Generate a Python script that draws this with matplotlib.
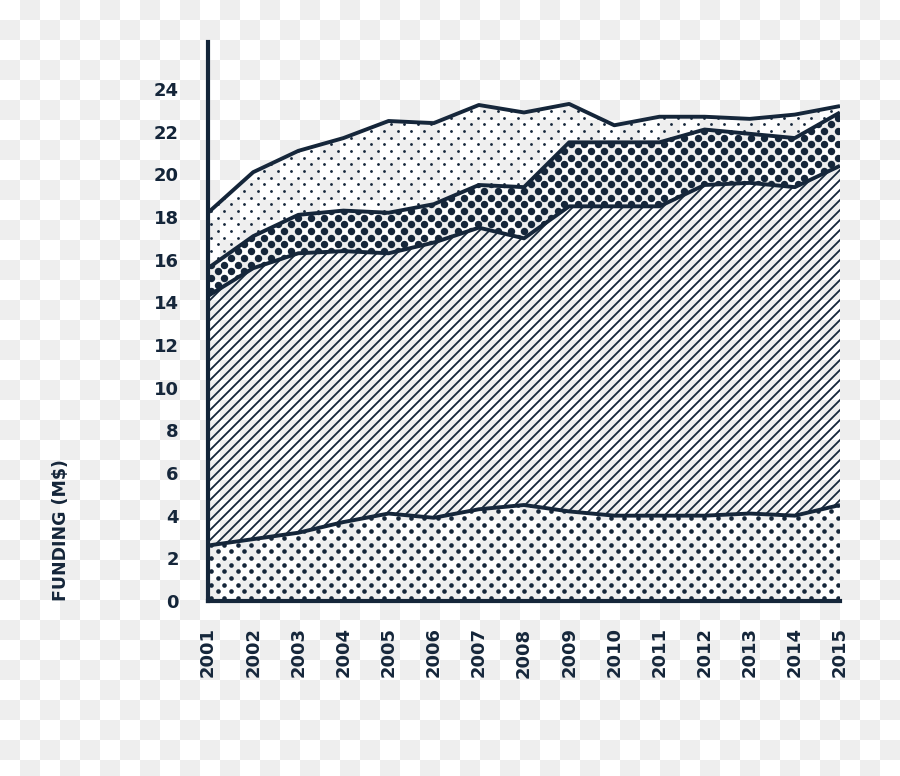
import numpy as np
import matplotlib
matplotlib.use("Agg")
import matplotlib.pyplot as plt
from matplotlib.collections import LineCollection

years = list(range(2001, 2016))
base_dots = [2.6, 2.9, 3.2, 3.7, 4.1, 3.9, 4.3, 4.5, 4.2, 4.0, 4.0, 4.0, 4.1, 4.0, 4.5]
hatched = [11.7, 12.7, 13.1, 12.7, 12.2, 12.9, 13.2, 12.5, 14.3, 14.5, 14.5, 15.5, 15.5, 15.4, 15.9]
big_dots = [1.3, 1.5, 1.8, 1.9, 1.9, 1.8, 2.0, 2.4, 3.0, 3.0, 3.0, 2.6, 2.3, 2.3, 2.5]
light_dots = [2.6, 3.0, 3.0, 3.4, 4.3, 3.8, 3.75, 3.5, 1.8, 0.8, 1.2, 0.6, 0.7, 1.1, 0.3]
yticks = [0, 2, 4, 6, 8, 10, 12, 14, 16, 18, 20, 22, 24]
ylabel = "FUNDING (M$)"

NAVY = "#15263a"
W_PX, H_PX = 900, 776
DPI = 100

fig = plt.figure(figsize=(W_PX / DPI, H_PX / DPI), dpi=DPI, facecolor="white")

# transparency checkerboard background
yy, xx = np.mgrid[0:H_PX, 0:W_PX]
checker = ((xx // 20 + yy // 20) % 2 == 1)
bg = np.ones((H_PX, W_PX, 3))
bg[checker] = 238 / 255
fig.figimage(bg, xo=0, yo=0, origin="upper", zorder=-10)

ax_l, ax_r, ax_t, ax_b = 208, 840, 42, 601
ax = fig.add_axes([ax_l / W_PX, (H_PX - ax_b) / H_PX,
                   (ax_r - ax_l) / W_PX, (ax_b - ax_t) / H_PX])
ax.set_facecolor("none")
AW, AH = ax_r - ax_l, ax_b - ax_t

x = np.array(years, dtype=float)
layers = [np.array(base_dots), np.array(hatched), np.array(big_dots), np.array(light_dots)]
cum = np.cumsum(layers, axis=0)
lower = [np.zeros_like(x)] + [cum[i] for i in range(3)]


def grid_points(dx, dy):
    pts = []
    rows = int(AH / dy) + 2
    for r in range(rows):
        off = (dx / 2) if r % 2 else 0.0
        xs = np.arange(off + 3, AW + dx, dx)
        ys = np.full_like(xs, 3 + r * dy)
        pts.append(np.column_stack([xs, ys]))
    p = np.vstack(pts)
    return p[:, 0] / AW, p[:, 1] / AH


def dot_fill(i, diam_px, dx=13.33, dy=6.67):
    poly = ax.fill_between(x, lower[i], cum[i], facecolor="none", edgecolor="none", lw=0)
    path = poly.get_paths()[0]
    gx, gy = grid_points(dx, dy)
    s = (diam_px * 72 / DPI) ** 2
    sc = ax.scatter(gx, gy, s=s, c=NAVY, linewidths=0, transform=ax.transAxes, zorder=2)
    sc.set_clip_path(path, ax.transData)


def hatch_fill(i, spacing_px=10, lw=1.3):
    poly = ax.fill_between(x, lower[i], cum[i], facecolor="none", edgecolor="none", lw=0)
    path = poly.get_paths()[0]
    segs = []
    for c in np.arange(-AH, AW + spacing_px, spacing_px):
        segs.append([(c / AW, 0), ((c + AH) / AW, 1)])
    lc = LineCollection(segs, colors=NAVY, linewidths=lw, transform=ax.transAxes, zorder=2)
    ax.add_collection(lc)
    lc.set_clip_path(path, ax.transData)


dot_fill(0, 4.6)
hatch_fill(1)
dot_fill(2, 7.4)
dot_fill(3, 2.8)

for i in range(4):
    ax.plot(x, cum[i], color=NAVY, lw=2.8, solid_joinstyle="round", solid_capstyle="butt", zorder=4)

ax.set_xlim(2001, 2015)
ax.set_ylim(0, (ax_b - ax_t) / ((601 - 89) / 24))

for side in ["top", "right"]:
    ax.spines[side].set_visible(False)
for side in ["left", "bottom"]:
    ax.spines[side].set_linewidth(3)
    ax.spines[side].set_color(NAVY)
    ax.spines[side].set_zorder(5)

ax.set_xticks(years)
ax.set_xticklabels([str(y) for y in years], rotation=90, fontsize=13,
                   fontweight="bold", color=NAVY, fontfamily="DejaVu Sans")
ax.set_yticks(yticks)
ax.set_yticklabels([str(v) for v in yticks], fontsize=13, fontweight="bold",
                   color=NAVY, fontfamily="DejaVu Sans")
ax.tick_params(axis="both", length=0)
ax.tick_params(axis="y", pad=21)
ax.tick_params(axis="x", pad=19)

fig.text(61 / W_PX, 1 - 530 / H_PX, ylabel, rotation=90, ha="center", va="center",
         fontsize=12.5, fontweight="bold", color=NAVY, fontfamily="DejaVu Sans")

fig.savefig("out.png", dpi=DPI, facecolor="white")
